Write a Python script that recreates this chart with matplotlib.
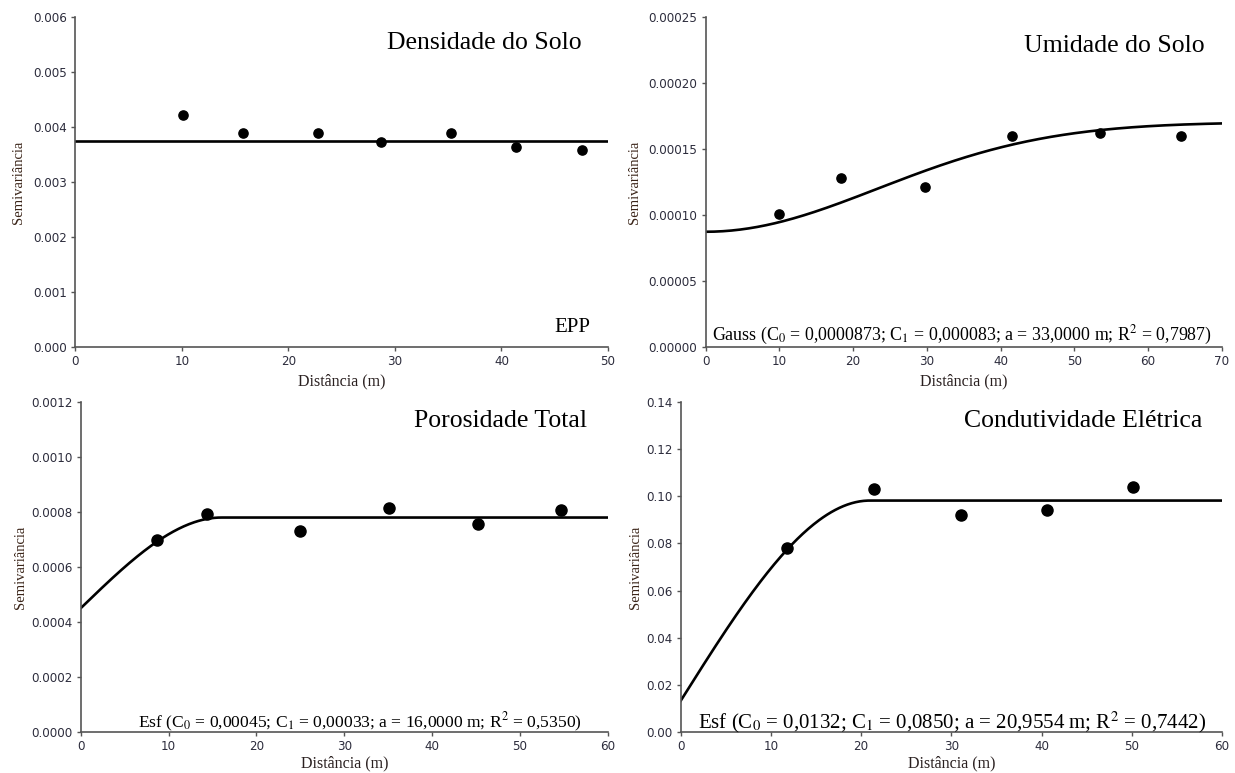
import numpy as np
import matplotlib

matplotlib.use('Agg')
import matplotlib.pyplot as plt
from matplotlib.ticker import FormatStrFormatter

plt.rcParams['mathtext.fontset'] = 'stix'

dens_dist = [10.1, 15.7, 22.8, 28.7, 35.3, 41.4, 47.6]
dens_gamma = [0.00422, 0.00390, 0.00389, 0.00373, 0.00390, 0.00364, 0.00358]
dens_c0 = 0.00375

umid_dist = [9.9, 18.4, 29.8, 41.6, 53.5, 64.4]
umid_gamma = [0.000101, 0.000128, 0.000121, 0.0001596, 0.0001619, 0.0001596]
umid_c0, umid_c1, umid_a = 0.0000873, 0.000083, 33.0

poro_dist = [8.7, 14.4, 25.0, 35.1, 45.2, 54.7]
poro_gamma = [0.000697, 0.000792, 0.000730, 0.000813, 0.000755, 0.000806]
poro_c0, poro_c1, poro_a = 0.00045, 0.00033, 16.0

cond_dist = [11.8, 21.4, 31.1, 40.6, 50.1]
cond_gamma = [0.0782, 0.1031, 0.0921, 0.0941, 0.1040]
cond_c0, cond_c1, cond_a = 0.0132, 0.0850, 20.9554


def gauss(h, c0, c1, a):
    return c0 + c1 * (1 - np.exp(-(h / a) ** 2))


def esf(h, c0, c1, a):
    r = np.minimum(h / a, 1.0)
    return c0 + c1 * (1.5 * r - 0.5 * r ** 3)


serif = 'Liberation Serif'
tick_col = '#2c2c3c'


def style(ax, xmax, xstep, ymax, ystep, fmt, ylpad, xlpad):
    ax.set_xlim(0, xmax)
    ax.set_ylim(0, ymax)
    ax.set_xticks(np.arange(0, xmax + 0.001, xstep))
    ax.set_yticks(np.arange(0, ymax + ymax * 1e-6, ystep))
    ax.yaxis.set_major_formatter(FormatStrFormatter(fmt))
    ax.xaxis.set_major_formatter(FormatStrFormatter('%d'))
    for s in ['top', 'right']:
        ax.spines[s].set_visible(False)
    for s in ['left', 'bottom']:
        ax.spines[s].set_color('#555555')
        ax.spines[s].set_linewidth(1.2)
    ax.tick_params(direction='out', length=3, width=1, color='#555555',
                   labelsize=8.6, labelcolor=tick_col, pad=3)
    for lab in ax.get_xticklabels() + ax.get_yticklabels():
        lab.set_family('DejaVu Sans')
    ax.set_xlabel('Distância (m)', family=serif, fontsize=11.5, color='#2a2020', labelpad=xlpad)
    ax.set_ylabel('Semivariância', family=serif, fontsize=10.5, color='#3a2418', labelpad=ylpad)


fig = plt.figure(figsize=(12.35, 7.73), dpi=100)

# Densidade do Solo
ax1 = fig.add_axes([0.0611, 0.5511, 0.4312, 0.4269])
ax1.scatter(dens_dist, dens_gamma, s=44, color='black', zorder=3)
h = np.linspace(0, 50, 200)
ax1.plot(h, np.full_like(h, dens_c0), color='black', lw=1.9)
style(ax1, 50, 10, 0.006, 0.001, '%.3f', 6, 4)
ax1.text(0.951, 0.921, 'Densidade do Solo', transform=ax1.transAxes, ha='right', va='center',
         family=serif, fontsize=18.5)
ax1.text(0.966, 0.06, 'EPP', transform=ax1.transAxes, ha='right', va='center',
         family=serif, fontsize=15)

# Umidade do Solo
ax2 = fig.add_axes([0.5713, 0.5511, 0.4181, 0.4269])
ax2.scatter(umid_dist, umid_gamma, s=44, color='black', zorder=3)
h = np.linspace(0, 70, 300)
ax2.plot(h, gauss(h, umid_c0, umid_c1, umid_a), color='black', lw=1.9)
style(ax2, 70, 10, 0.00025, 0.00005, '%.5f', 5, 4)
ax2.text(0.967, 0.912, 'Umidade do Solo', transform=ax2.transAxes, ha='right', va='center',
         family=serif, fontsize=18.5)
ax2.text(0.497, 0.035,
         'Gauss (C$_0$ = 0,0000873; C$_1$ = 0,000083; a = 33,0000 m; R$^2$ = 0,7987)',
         transform=ax2.transAxes, ha='center', va='center', family=serif, fontsize=12.9)

# Porosidade Total
ax3 = fig.add_axes([0.0653, 0.0530, 0.4270, 0.4269])
ax3.scatter(poro_dist, poro_gamma, s=64, color='black', zorder=3)
h = np.linspace(0, 60, 400)
ax3.plot(h, esf(h, poro_c0, poro_c1, poro_a), color='black', lw=1.9)
style(ax3, 60, 10, 0.0012, 0.0002, '%.4f', 3, 1.5)
ax3.text(0.961, 0.943, 'Porosidade Total', transform=ax3.transAxes, ha='right', va='center',
         family=serif, fontsize=18.5)
ax3.text(0.529, 0.03,
         'Esf (C$_0$ = 0,00045; C$_1$ = 0,00033; a = 16,0000 m; R$^2$ = 0,5350)',
         transform=ax3.transAxes, ha='center', va='center', family=serif, fontsize=12.6)

# Condutividade Eletrica
ax4 = fig.add_axes([0.5511, 0.0530, 0.4384, 0.4269])
ax4.scatter(cond_dist, cond_gamma, s=64, color='black', zorder=3)
h = np.linspace(0, 60, 400)
ax4.plot(h, esf(h, cond_c0, cond_c1, cond_a), color='black', lw=1.9)
style(ax4, 60, 10, 0.14, 0.02, '%.2f', 3, 1.5)
ax4.text(0.964, 0.943, 'Condutividade Elétrica', transform=ax4.transAxes, ha='right', va='center',
         family=serif, fontsize=18.5)
ax4.text(0.501, 0.03,
         'Esf (C$_0$ = 0,0132; C$_1$ = 0,0850; a = 20,9554 m; R$^2$ = 0,7442)',
         transform=ax4.transAxes, ha='center', va='center', family=serif, fontsize=15)

fig.savefig('out.png', dpi=100)
